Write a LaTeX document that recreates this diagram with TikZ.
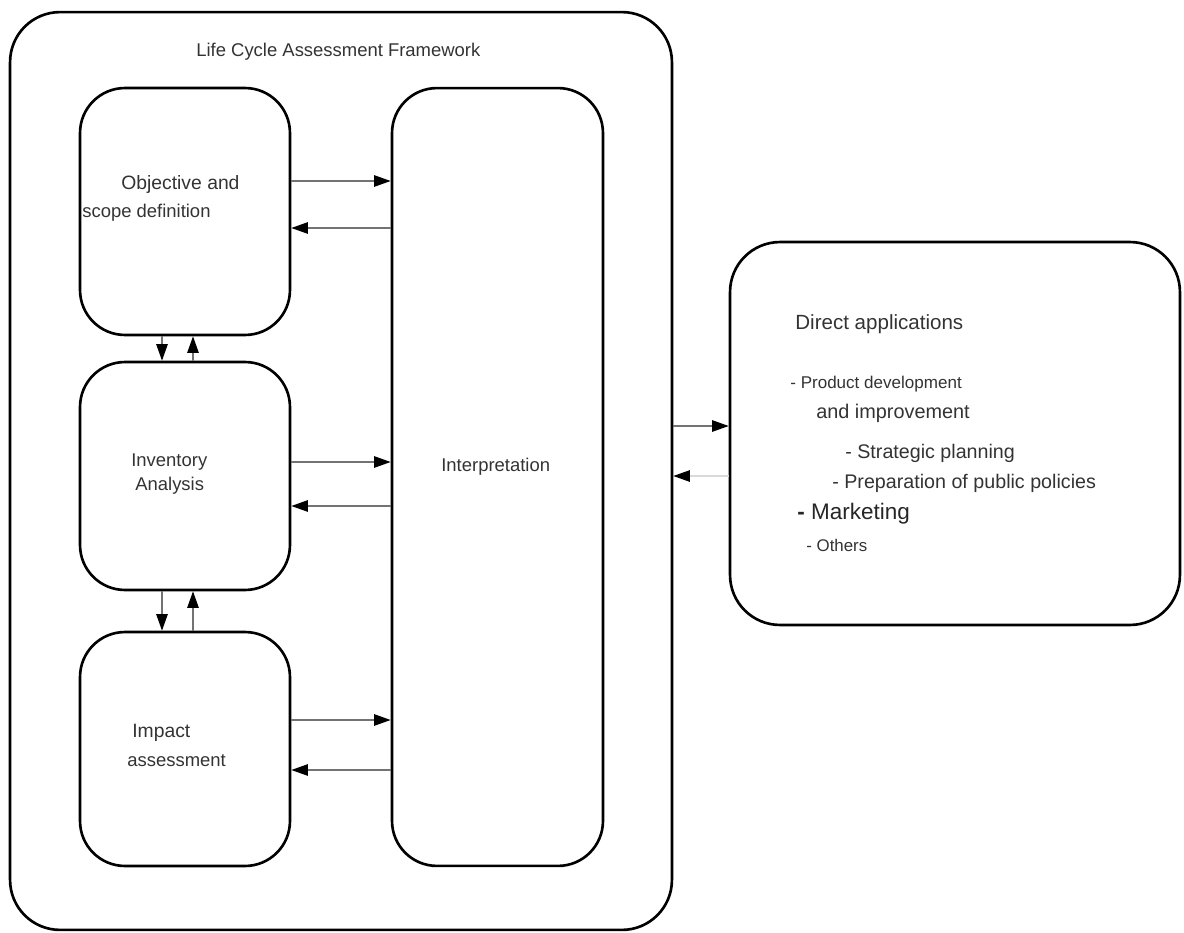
\documentclass[tikz,border=0pt]{standalone}
\usepackage{fontspec}
\setmainfont{Liberation Sans}
\usetikzlibrary{positioning, arrows.meta}

\begin{document}
\begin{tikzpicture}[x=0.02cm, y=-0.02cm, font=\fontsize{10.5}{12}\selectfont,
  frame/.style={draw, line width=1.5pt, rounded corners=1cm, inner sep=0pt},
  phase/.style={draw, line width=1.5pt, rounded corners=0.9cm, inner sep=0pt},
  txt/.style={anchor=west, inner sep=0pt, text=black!80},
  flow/.style={draw=black!55, line width=0.9pt, -{Triangle[length=9.5pt, width=6.5pt, black]}},
  faint/.style={flow, draw=black!15}]
\useasboundingbox (0,0) rectangle (1184,933);
% Framework frame and its four phases.
\node[frame, minimum width=13.24cm, minimum height=18.36cm] (lca) at (341,471) {};
\node[phase, minimum width=4.2cm, minimum height=4.94cm] (goal) at (185,211.5) {};
\node[phase, minimum width=4.2cm, minimum height=4.56cm] (inventory) at (185,476) {};
\node[phase, minimum width=4.2cm, minimum height=4.68cm] (impact) at (185,749) {};
\node[phase, minimum width=4.22cm, minimum height=15.56cm] (interp) at (497.5,477) {};
% Applications box.
\node[frame, minimum width=9cm, minimum height=7.66cm] (apps) at (955,433.5) {};
% Texts.
\node[txt] (title) at (196,52) {Life Cycle Assessment Framework};
\node[txt, font=\fontsize{11}{13}\selectfont] (goal1) at (121,185) {Objective and};
\node[txt] (goal2) at (82,213) {scope definition};
\node[txt] (inv1) at (131,462) {Inventory};
\node[txt] (inv2) at (135,486) {Analysis};
\node[txt, font=\fontsize{11}{13}\selectfont] (imp1) at (132,733) {Impact};
\node[txt] (imp2) at (127,761) {assessment};
\node[txt] (interptxt) at (441,467) {Interpretation};
\node[txt, font=\fontsize{11.7}{14}\selectfont] (appstitle) at (795,324) {Direct applications};
\node[txt, font=\fontsize{9.7}{12}\selectfont] (app1) at (790,384) {- Product development};
\node[txt, font=\fontsize{11.3}{13}\selectfont] (app2) at (816,413) {and improvement};
\node[txt, font=\fontsize{11.2}{13}\selectfont] (app3) at (845,453) {- Strategic planning};
\node[txt, font=\fontsize{11.2}{13}\selectfont] (app4) at (832,483) {- Preparation of public policies};
\node[txt, font=\fontsize{12.8}{15}\selectfont, text=black!85] (app5) at (797,514) {\textbf{-} Marketing};
\node[txt, font=\fontsize{9.6}{12}\selectfont] (app6) at (806,545) {- Others};
% Phases to interpretation and back.
\draw[flow] (goal.east |- 0,181) -- (interp.west |- 0,181);
\draw[flow] (interp.west |- 0,228) -- (goal.east |- 0,228);
\draw[flow] (inventory.east |- 0,462) -- (interp.west |- 0,462);
\draw[flow] (interp.west |- 0,506) -- (inventory.east |- 0,506);
\draw[flow] (impact.east |- 0,720) -- (interp.west |- 0,720);
\draw[flow] (interp.west |- 0,770) -- (impact.east |- 0,770);
% Between phases.
\draw[flow] (goal.south -| 162,0) -- (inventory.north -| 162,0);
\draw[flow] (inventory.north -| 193,0) -- (goal.south -| 193,0);
\draw[flow] (inventory.south -| 162,0) -- (impact.north -| 162,0);
\draw[flow] (impact.north -| 193,0) -- (inventory.south -| 193,0);
% Framework and applications.
\draw[flow] (lca.east |- 0,426) -- (apps.west |- 0,426);
\draw[faint] (apps.west |- 0,476) -- (lca.east |- 0,476);
\end{tikzpicture}
\end{document}
